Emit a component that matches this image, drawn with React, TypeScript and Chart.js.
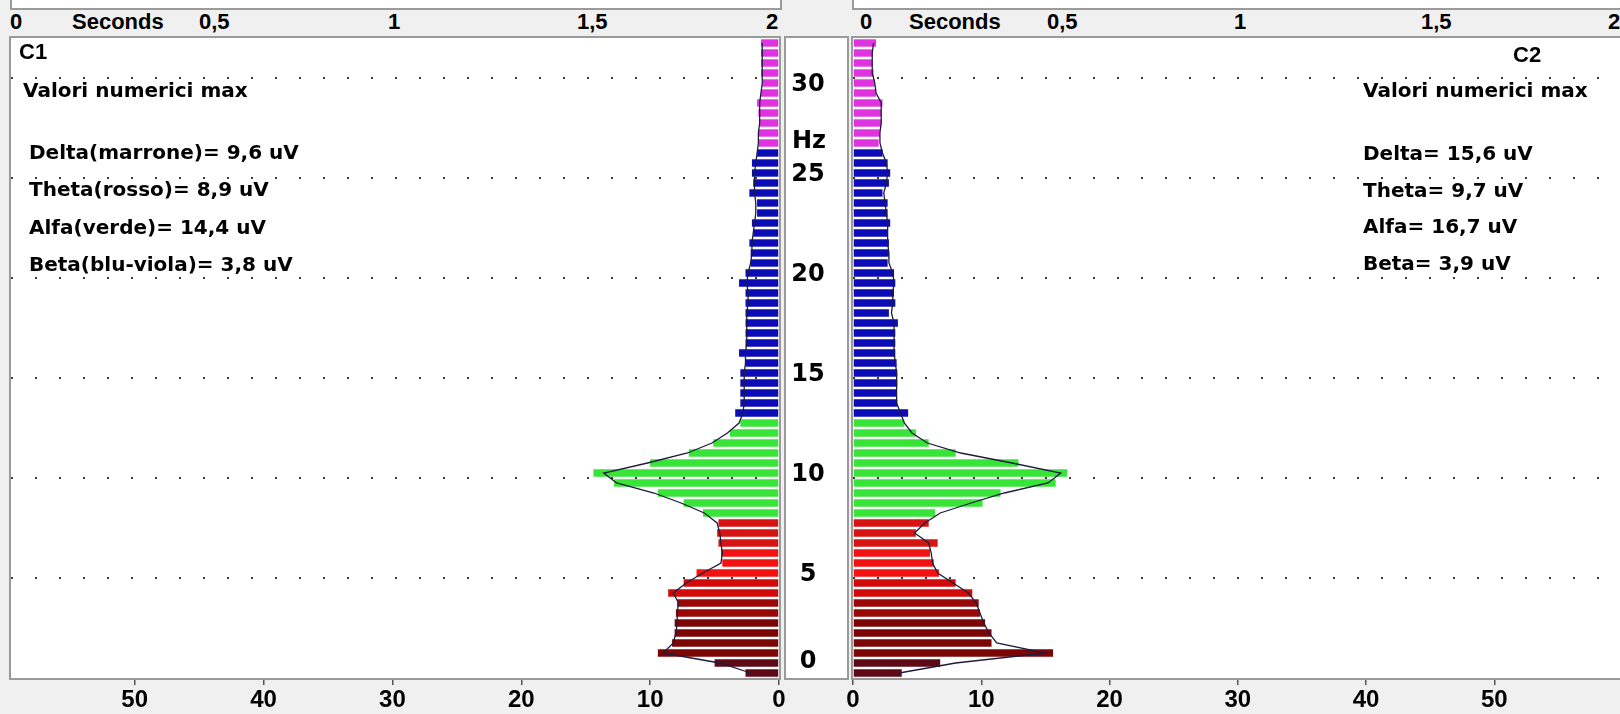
import React, { useEffect, useRef } from "react";
import { Chart, registerables } from "chart.js";

Chart.register(...registerables);

// ---------- data ----------
// frequency bins (0.5 Hz wide), centre of each bin
const HZ_BINS: number[] = Array.from({ length: 64 }, (_, i) => i * 0.5 + 0.25);

const C1_BARS: number[] = [
  2.6, 5.0, 9.4, 8.3, 8.1, 8.1, 8.0, 7.9, 8.6, 7.4,
  6.4, 4.4, 4.5, 4.7, 4.8, 4.7, 5.9, 7.4, 9.4, 12.8,
  14.4, 10.0, 7.0, 5.1, 3.8, 3.0, 3.4, 3.0, 3.0, 3.0,
  3.0, 2.6, 3.1, 2.6, 2.6, 2.6, 2.6, 2.6, 2.6, 3.1,
  2.6, 2.2, 2.2, 2.3, 2.0, 2.1, 1.7, 1.7, 2.3, 2.0,
  2.1, 2.1, 1.7, 1.6, 1.6, 1.5, 1.6, 1.7, 1.4, 1.3,
  1.4, 1.4, 1.4, 1.4,
];
const C1_LINE: number[] = [
  2.2, 4.6, 9.0, 8.2, 8.0, 7.9, 7.9, 7.8, 8.2, 7.2,
  5.9, 4.5, 4.4, 4.5, 4.6, 4.8, 5.8, 7.6, 9.7, 12.6,
  13.6, 10.2, 7.1, 5.2, 4.0, 3.1, 2.8, 2.7, 2.7, 2.7,
  2.7, 2.6, 2.6, 2.5, 2.5, 2.5, 2.5, 2.4, 2.4, 2.5,
  2.4, 2.2, 2.1, 2.1, 2.0, 1.9, 1.8, 1.8, 1.9, 1.9,
  1.9, 1.8, 1.7, 1.6, 1.6, 1.5, 1.5, 1.5, 1.4, 1.3,
  1.3, 1.3, 1.3, 1.3,
];
const C2_BARS: number[] = [
  3.8, 6.8, 15.6, 10.8, 10.8, 10.3, 9.9, 9.8, 9.3, 8.0,
  6.7, 6.3, 6.0, 6.6, 4.9, 5.9, 6.4, 10.1, 11.5, 15.8,
  16.7, 12.9, 8.0, 5.9, 4.9, 4.0, 4.3, 3.45, 3.4, 3.45,
  3.45, 3.4, 3.3, 3.3, 3.3, 3.5, 2.8, 3.3, 3.2, 3.3,
  3.2, 2.7, 2.8, 2.8, 2.7, 2.9, 2.7, 2.7, 2.3, 2.8,
  2.9, 2.7, 2.3, 2.0, 2.1, 2.2, 2.2, 2.3, 1.8, 1.7,
  1.6, 1.5, 1.5, 1.8,
];
const C2_LINE: number[] = [
  3.6, 8.0, 15.0, 11.2, 10.6, 10.2, 9.9, 9.6, 9.0, 7.8,
  6.6, 6.2, 6.1, 5.9, 4.8, 5.6, 6.8, 9.2, 11.8, 15.2,
  16.2, 12.4, 8.4, 5.8, 4.6, 4.0, 3.7, 3.4, 3.4, 3.4,
  3.4, 3.3, 3.2, 3.2, 3.2, 3.2, 3.0, 3.1, 3.1, 3.2,
  3.1, 2.8, 2.8, 2.7, 2.7, 2.7, 2.6, 2.5, 2.4, 2.6,
  2.7, 2.6, 2.3, 2.1, 2.1, 2.2, 2.2, 2.2, 1.8, 1.7,
  1.5, 1.5, 1.5, 1.6,
];

const HZ_LABELS: number[] = [0, 5, 10, 15, 20, 25, 30];
const HZ_UNIT = "Hz";
const HZ_UNIT_AT = 26.8;
const SECONDS_TICKS: string[] = ["0", "0,5", "1", "1,5", "2"];
const SECONDS_TITLE = "Seconds";

const C1_TITLE = "C1";
const C2_TITLE = "C2";
const NOTES_TITLE = "Valori numerici max";
const C1_NOTES: string[] = [
  "Delta(marrone)= 9,6 uV",
  "Theta(rosso)= 8,9 uV",
  "Alfa(verde)= 14,4 uV",
  "Beta(blu-viola)= 3,8 uV",
];
const C2_NOTES: string[] = [
  "Delta= 15,6 uV",
  "Theta= 9,7 uV",
  "Alfa= 16,7 uV",
  "Beta= 3,9 uV",
];

// ---------- styling ----------
const BAND_COLORS: { below: number; color: string }[] = [
  { below: 1, color: "#5e0a16" },
  { below: 3, color: "#7c0606" },
  { below: 4, color: "#990808" },
  { below: 5, color: "#d20a0a" },
  { below: 6.5, color: "#f31212" },
  { below: 8, color: "#d61414" },
  { below: 13, color: "#38e438" },
  { below: 26.5, color: "#0c0cb6" },
  { below: 99, color: "#e033e0" },
];
const barColor = (hz: number) => (BAND_COLORS.find((b) => hz < b.below) || BAND_COLORS[BAND_COLORS.length - 1]).color;

const NUM_FONT = '"Liberation Sans", Arial, sans-serif';
const TXT_FONT = '"DejaVu Sans", Verdana, sans-serif';
const BORDER = "#9a9a9a";

function makeChart(canvas: HTMLCanvasElement, bars: number[], line: number[], left: boolean) {
  const panelPlugin = {
    id: "panel",
    beforeDraw(chart: any) {
      const { ctx, chartArea: a } = chart;
      ctx.save();
      ctx.fillStyle = "#ffffff";
      ctx.fillRect(a.left, a.top, a.right - a.left, a.bottom - a.top);
      ctx.restore();
    },
    afterDraw(chart: any) {
      const { ctx, chartArea: a } = chart;
      ctx.save();
      ctx.strokeStyle = BORDER;
      ctx.lineWidth = 2;
      ctx.strokeRect(a.left - 1, a.top - 1, a.right - a.left + 2, a.bottom - a.top + 2);
      if (left) {
        const ys = chart.scales.y;
        const px = a.right + 6;
        const pw = 63;
        ctx.fillStyle = "#ffffff";
        ctx.fillRect(px, a.top, pw, a.bottom - a.top);
        ctx.strokeRect(px, a.top - 1, pw, a.bottom - a.top + 2);
        ctx.fillStyle = "#000";
        ctx.font = `bold 24px ${TXT_FONT}`;
        ctx.textAlign = "center";
        ctx.textBaseline = "middle";
        HZ_LABELS.forEach((v) => {
          let y = ys.getPixelForValue(v) - 3;
          y = Math.min(Math.max(y, a.top + 47), a.bottom - 16);
          ctx.fillText(String(v), px + 23, y);
        });
        ctx.fillText(HZ_UNIT, px + 24, ys.getPixelForValue(HZ_UNIT_AT));
      }
      ctx.restore();
    },
  };

  return new Chart(canvas, {
    type: "bar",
    data: {
      datasets: [
        {
          type: "line",
          indexAxis: "y",
          data: line.map((v, i) => ({ x: v, y: HZ_BINS[i] })),
          borderColor: "#1c1c3c",
          borderWidth: 1.3,
          pointRadius: 0,
          tension: 0,
          fill: false,
          order: 0,
        } as any,
        {
          type: "bar",
          data: bars.map((v, i) => ({ x: v, y: HZ_BINS[i] })),
          backgroundColor: HZ_BINS.map(barColor),
          borderWidth: 0,
          barPercentage: 0.74,
          categoryPercentage: 1,
          order: 1,
        } as any,
      ],
    },
    options: {
      indexAxis: "y",
      animation: false,
      responsive: false,
      maintainAspectRatio: false,
      devicePixelRatio: 1,
      layout: {
        padding: left
          ? { left: 11, right: 71, top: 38, bottom: 0 }
          : { left: 23, right: 0, top: 38, bottom: 0 },
      },
      plugins: { legend: { display: false }, tooltip: { enabled: false } },
      scales: {
        x: {
          type: "linear",
          reverse: left,
          min: 0,
          max: left ? 59.6 : 59.8,
          offset: false,
          ticks: {
            stepSize: 10,
            includeBounds: false,
            autoSkip: false,
            maxRotation: 0,
            padding: 1,
            color: "#000",
            font: { family: NUM_FONT, size: 24, weight: "bold" },
          },
          grid: { offset: false, drawOnChartArea: false, drawTicks: true, tickLength: 7, color: "#555", lineWidth: 1.5 },
          border: { display: false },
          afterFit: (s: any) => {
            s.height = 36;
          },
        },
        y: {
          type: "linear",
          position: left ? "right" : "left",
          min: 0,
          max: 32,
          offset: false,
          ticks: { display: false, stepSize: 5, includeBounds: false },
          grid: {
            offset: false,
            drawTicks: false,
            lineWidth: 2,
            color: (c: any) => (c.tick && c.tick.value === 0 ? "rgba(0,0,0,0)" : "#3a3a3a"),
          },
          border: { display: false, dash: [2, 22] },
          afterFit: (s: any) => {
            s.width = 0;
          },
        },
      },
    } as any,
    plugins: [panelPlugin],
  });
}

const abs = (x: number, y: number, extra: React.CSSProperties = {}): React.CSSProperties => ({
  position: "absolute",
  left: x,
  top: y,
  transform: "translateY(-50%)",
  whiteSpace: "nowrap",
  lineHeight: 1,
  color: "#000",
  fontWeight: "bold",
  ...extra,
});

export default function App() {
  const leftRef = useRef<HTMLCanvasElement>(null);
  const rightRef = useRef<HTMLCanvasElement>(null);

  useEffect(() => {
    const charts = [
      makeChart(leftRef.current as HTMLCanvasElement, C1_BARS, C1_LINE, true),
      makeChart(rightRef.current as HTMLCanvasElement, C2_BARS, C2_LINE, false),
    ];
    return () => charts.forEach((c) => c.destroy());
  }, []);

  const secFont: React.CSSProperties = { fontFamily: NUM_FONT, fontSize: 22 };
  const noteFont: React.CSSProperties = { fontFamily: TXT_FONT, fontSize: 20 };
  const titleFont: React.CSSProperties = { fontFamily: NUM_FONT, fontSize: 22 };

  return (
    <div
      style={{
        position: "fixed",
        left: 0,
        top: 0,
        width: 1620,
        height: 714,
        background: "#f0f0f0",
        overflow: "hidden",
      }}
    >
      {/* upper (cut-off) panels */}
      <div style={{ position: "absolute", left: 10, top: -4, width: 772, height: 14, background: "#fff", border: `2px solid ${BORDER}`, boxSizing: "border-box" }} />
      <div style={{ position: "absolute", left: 852, top: -4, width: 790, height: 14, background: "#fff", border: `2px solid ${BORDER}`, boxSizing: "border-box" }} />

      {/* seconds axis labels of the upper panels */}
      {SECONDS_TICKS.map((t, i) => (
        <div key={"ls" + i} style={abs(10 + i * 189, 22, secFont)}>{t}</div>
      ))}
      <div style={abs(72, 22, secFont)}>{SECONDS_TITLE}</div>
      {SECONDS_TICKS.map((t, i) => (
        <div key={"rs" + i} style={abs(860 + i * 187, 22, secFont)}>{t}</div>
      ))}
      <div style={abs(909, 22, secFont)}>{SECONDS_TITLE}</div>

      <canvas ref={leftRef} width={850} height={714} style={{ position: "absolute", left: 0, top: 0 }} />
      <canvas ref={rightRef} width={790} height={714} style={{ position: "absolute", left: 830, top: 0 }} />

      {/* C1 annotations */}
      <div style={abs(19, 52, titleFont)}>{C1_TITLE}</div>
      <div style={abs(23, 90, noteFont)}>{NOTES_TITLE}</div>
      {C1_NOTES.map((t, i) => (
        <div key={"n1" + i} style={abs(29, 152 + i * 37.3, noteFont)}>{t}</div>
      ))}

      {/* C2 annotations */}
      <div style={abs(1513, 55, titleFont)}>{C2_TITLE}</div>
      <div style={abs(1363, 90, noteFont)}>{NOTES_TITLE}</div>
      {C2_NOTES.map((t, i) => (
        <div key={"n2" + i} style={abs(1363, 153 + i * 36.7, noteFont)}>{t}</div>
      ))}
    </div>
  );
}
